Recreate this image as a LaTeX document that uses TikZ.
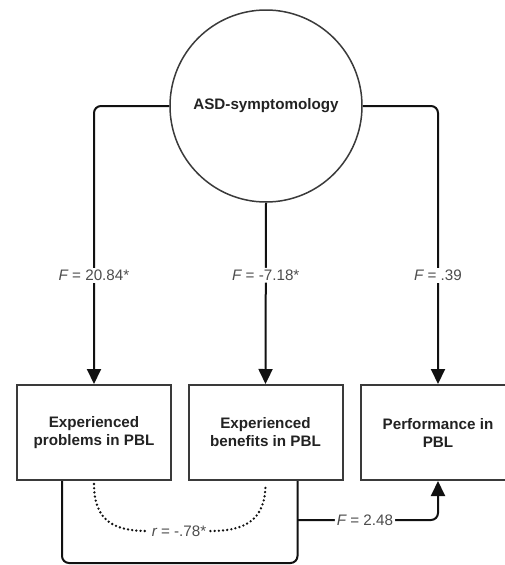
\documentclass[tikz,border=0pt]{standalone}
\usepackage{fontspec}
\setmainfont{Liberation Sans}
\usetikzlibrary{arrows.meta,calc}
\definecolor{diagink}{HTML}{111111}
\definecolor{diagframe}{HTML}{3A3A3A}
\definecolor{diagtext}{HTML}{222222}
\definecolor{diaglabel}{HTML}{4D4D4D}

\begin{document}
\begin{tikzpicture}[
  x=1pt,
  y=-1pt,
  every node/.style={font=\fontsize{15.2}{18}\selectfont, diagtext},
  construct/.style={circle, draw=diagframe, line width=1.5pt, minimum size=192pt,
                    inner sep=0pt, font=\fontsize{15.2}{18}\selectfont\bfseries},
  measure/.style={draw=diagframe, line width=2pt, minimum width=154pt, minimum height=95pt,
                  inner sep=0pt, align=center, font=\fontsize{15.2}{18}\selectfont\bfseries},
  link/.style={diagink, line width=2pt, rounded corners=7pt},
  effect/.style={link, -{Triangle[length=15pt, width=14pt]}},
  corr/.style={diagink, line width=2.6pt, line cap=round, dash pattern=on 0pt off 4.2pt},
  flab/.style={fill=white, text=diaglabel, inner sep=2pt}
]
  \useasboundingbox (0,0) rectangle (505,565);

  % ---- predictor ----
  \node[construct] (asd) at (266,106) {ASD-symptomology};

  % ---- outcomes ----
  \node[measure] (prob) at (94,432.5)    {Experienced\\problems in PBL};
  \node[measure] (ben)  at (265.5,432.5) {Experienced\\benefits in PBL};
  \node[measure] (perf) at (438,432.5)   {Performance in\\PBL};

  % ---- effects of ASD-symptomology ----
  \draw[effect] (asd.west) -| (prob.north) node[flab, pos=0.805] {{\itshape F} = 20.84*};
  \draw[effect] (asd.south) -- (ben.north) node[flab, pos=0.40] {{\itshape F} = -7.18*};
  \draw[effect] (asd.east) -| (perf.north) node[flab, pos=0.805] {{\itshape F} = .39};

  % ---- correlation between problems and benefits ----
  \node[flab, fill=none, inner sep=4pt] (rlab) at (179,531) {{\itshape r} = -.78*};
  \draw[corr] ($(prob.south)+(0,3)$) .. controls +(0,38) and +(-32,0) .. (rlab.west);
  \draw[corr] (rlab.east) .. controls +(32,0) and +(0,38) .. ($(ben.south)+(0,3)$);

  % ---- joint effect on performance ----
  \coordinate (pleft)  at ($(prob.south)+(-32,0)$);
  \coordinate (bright) at ($(ben.south)+(32,0)$);
  \coordinate (floor)  at (180,563);
  \coordinate (split)  at ($(bright)+(0,39)$);
  \draw[link] (pleft) |- (floor) -| (bright);
  \draw[effect] (split) -| (perf.south) node[flab, pos=0.24] {{\itshape F} = 2.48};
\end{tikzpicture}
\end{document}
